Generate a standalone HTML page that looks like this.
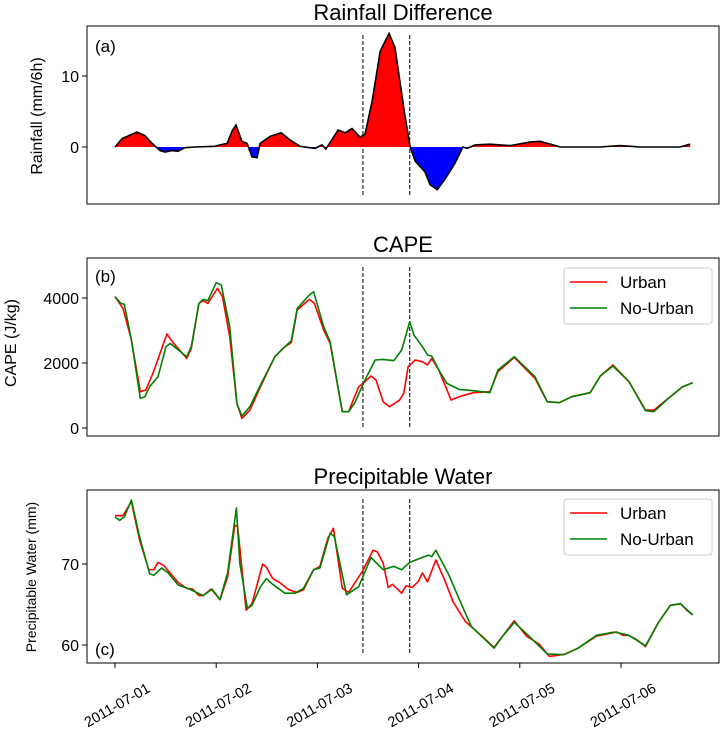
<!DOCTYPE html>
<html><head><meta charset="utf-8"><style>
body{margin:0;background:#fff}
svg{font-family:"Liberation Sans","DejaVu Sans",sans-serif}
</style></head><body>
<svg id="chart" width="722" height="729" viewBox="0 0 722 729">
<defs>
<clipPath id="clipPos"><rect x="87" y="0" width="632" height="147"/></clipPath>
<clipPath id="clipNeg"><rect x="87" y="147" width="632" height="60"/></clipPath>
</defs>
<g id="root"></g>
</svg>
<script>
// ---- data ----
const rainHours=[0,1.7,5.2,7.1,8.8,10.7,11.9,13.5,14.9,16.6,19,23.7,24.9,26.6,27.8,28.7,30.1,31.3,32.5,33.7,34.4,36.8,39.4,41.5,43.9,47.4,49.1,50,51.2,52.9,54.6,56.2,58.1,59.3,61,62.9,65,66.4,68.6,70,71.2,73.5,74.7,76.4,78.3,80.6,82.5,83.5,85.4,88.9,93.7,98.4,100.8,103.9,105.6,115,119.8,124.5,134,136.4];
const rainDiff=[0,1.2,2.1,1.6,0.5,-0.5,-0.7,-0.5,-0.6,-0.1,0,0.1,0.3,0.5,2.3,3.1,0.8,0.5,-1.4,-1.5,0.5,1.5,2.0,1.0,0.1,-0.2,0.3,-0.3,0.8,2.4,2.0,2.6,1.4,1.8,6.5,13.5,16,14,5,0,-2,-3.5,-5.3,-6,-4.5,-2.3,0,-0.2,0.3,0.4,0.2,0.7,0.8,0.3,0,0,0.2,0,0,0.4];
const capeUrbanHours=[0,1.9,3.9,6.0,7.3,9.0,12.3,13.6,17.0,18.1,19.9,20.9,22.0,24.3,25.5,27.2,28.9,30.1,32.0,34.5,37.9,40.3,41.8,43.2,46.1,47.3,49.5,51.0,53.9,55.4,57.8,59.3,60.7,61.9,63.6,65.1,67.5,68.5,69.5,71.2,72.9,74.1,75.1,76.8,79.7,81.6,85.0,88.9,90.8,94.7,99.6,102.5,105.4,108.3,112.7,115.1,118.1,121.9,125.8,127.8,131.7,134.6,137];
const capeUrban=[4041,3681,2707,1116,1168,1681,2891,2655,2142,2450,3835,3917,3835,4297,4041,2809,758,296,552,1271,2194,2502,2625,3630,3958,3835,3015,2604,501,501,1271,1424,1599,1476,809,655,860,1065,1886,2091,2040,1937,2142,1784,860,963,1086,1117,1732,2173,1527,809,778,963,1086,1599,1937,1424,552,552,963,1271,1394];
const capeNoUrbanHours=[0,1.4,2.2,3.9,6.0,7.1,8.2,10.2,12.1,13.1,17.0,18.1,19.9,20.9,22.0,24.0,25.2,27.2,28.9,30.1,32,34.5,37.9,40.3,41.8,43.2,46.1,47.1,49.5,51,53.9,55.4,56.8,59.3,61.7,63.6,66.1,68.0,69.9,70.9,72.9,74.1,75.1,76.8,78.7,81.6,85,88.9,90.8,94.7,99.6,102.5,105.4,108.3,112.7,115.1,118.1,121.9,125.8,127.8,131.7,134.6,137];
const capeNoUrban=[4041,3835,3805,2707,911,963,1271,1578,2502,2604,2194,2502,3835,3958,3917,4471,4400,3117,758,368,655,1322,2194,2502,2686,3681,4092,4195,3117,2655,501,501,758,1476,2091,2112,2071,2399,3271,2860,2502,2245,2214,1784,1373,1189,1147,1086,1784,2194,1578,809,778,963,1086,1599,1907,1424,532,501,963,1271,1394];
const pwUrbanHours=[0,1.9,3.9,5.8,8.0,9.2,10.2,11.6,15.0,17.0,18.4,19.9,20.9,22.8,24.9,26.7,28.4,29.1,31.1,32.5,35.0,35.9,37.4,38.8,41.3,43.2,44.7,47.1,48.6,50.5,51.8,53.9,55.4,58.8,61.2,62.2,63.6,64.8,65.8,68.0,69.0,70.4,71.9,72.9,74.1,76.1,78.2,80.2,83.1,87.0,89.9,91.8,94.7,97.6,100.6,103.0,104.9,106.9,109.8,114.2,119.0,120.5,121.9,123.9,125.8,128.8,131.7,134.1,135.6,137];
const pwUrban=[75.97,75.97,77.7,73.0,69.3,69.3,70.2,69.8,67.7,67.0,66.9,66.1,66.1,66.9,65.6,68.4,74.8,74.6,64.3,65.1,70.0,69.6,68.2,67.8,66.8,66.5,66.8,69.3,69.7,73.2,74.4,67.0,66.5,69.2,71.7,71.5,70.1,67.1,67.5,66.4,67.3,67.1,67.8,68.9,67.8,70.5,68.0,65.3,62.9,61.1,59.7,61.0,63.0,61.1,60.1,58.6,58.7,58.9,59.6,61.1,61.6,61.2,61.2,60.6,59.8,62.7,64.9,65.1,64.3,63.7];
const pwNoUrbanHours=[0,1.1,2.2,3.9,5.8,8.2,9.2,11.1,12.6,15.0,17.2,18.9,20.9,23.0,24.9,26.7,28.8,29.6,31.4,32.5,34.5,35.9,37.4,40.3,42.7,44.7,47.1,48.6,51.0,52.0,54.9,57.8,60.7,63.6,66.1,68.0,69.9,72.4,74.4,75.1,76.1,79.2,82.1,84.5,89.9,91.8,94.7,97.6,102.5,106.4,109.8,114.2,118.5,121.9,125.8,128.8,131.7,134.1,137];
const pwNoUrban=[75.8,75.4,75.8,77.9,73.4,68.8,68.6,69.5,68.9,67.4,67.0,66.6,66.1,66.9,65.6,68.9,76.9,70.1,64.5,64.9,67.2,68.2,67.5,66.4,66.4,67.0,69.3,69.5,73.8,73.4,66.2,67.2,70.8,69.3,69.7,69.3,70.2,70.7,71.1,70.9,71.7,68.6,65.1,62.3,59.6,61.0,62.8,61.4,58.9,58.8,59.6,61.2,61.6,61.2,59.9,62.7,64.9,65.1,63.7];
const xTickLabels=["2011-07-01","2011-07-02","2011-07-03","2011-07-04","2011-07-05","2011-07-06"];
const eventHours=[58.8,69.9];
const rainTicks=[0,10], capeTicks=[0,2000,4000], pwTicks=[60,70];

// ---- scales ----
const X=h=>115+h/24*101.2;
const Ya=v=>147-v*7.1;
const Yb=v=>428-v*0.0325;
const Yc=v=>564-(v-70)*8.1;
const NS="http://www.w3.org/2000/svg";
const root=document.getElementById('root');
function mk(tag,attrs,parent){const e=document.createElementNS(NS,tag);for(const k in attrs)e.setAttribute(k,attrs[k]);(parent||root).appendChild(e);return e;}
function txt(s,attrs){const e=mk('text',attrs);e.textContent=s;return e;}
function pts(hs,vs,Y){return hs.map((h,i)=>X(h).toFixed(1)+','+Y(vs[i]).toFixed(1)).join(' ');}

const panels=[{top:26,bot:204,title:"Rainfall Difference",ty:20,lab:"(a)",ly:52,name:"rainfall"},
{top:258,bot:436,title:"CAPE",ty:252,lab:"(b)",ly:282,name:"cape"},
{top:490,bot:663,title:"Precipitable Water",ty:484,lab:"(c)",ly:655,name:"pw"}];
panels.forEach(p=>{
  let r=mk('rect',{x:87,y:p.top,width:632,height:p.bot-p.top,fill:'none',stroke:'#000','stroke-width':1});
  
  
  let t=txt(p.title,{x:403,y:p.ty,'text-anchor':'middle','font-size':22});
  
  
  let l=txt(p.lab,{x:95,y:p.ly,'font-size':17});
  
  
  eventHours.forEach(h=>{
    let d=mk('line',{x1:X(h),x2:X(h),y1:p.top+9,y2:p.bot-8,stroke:'#000','stroke-width':1,'stroke-dasharray':'4,2'});
    
    
  });
});
function yTicks(ticks,Y,name){ticks.forEach(v=>{
  let tk=mk('line',{x1:82,x2:87,y1:Y(v),y2:Y(v),stroke:'#000'});
  
  
  let t=txt(String(v),{x:79,y:Y(v)+6,'text-anchor':'end','font-size':16});
  
  
});}
yTicks(rainTicks,Ya,'rainfall');yTicks(capeTicks,Yb,'cape');yTicks(pwTicks,Yc,'pw');

// y titles
[["Rainfall (mm/6h)",42,116,16,'rainfall'],["CAPE (J/kg)",16,343,16,'cape'],["Precipitable Water (mm)",36,577,14,'pw']].forEach(a=>{
  let t=txt(a[0],{x:a[1],y:a[2],'text-anchor':'middle','font-size':a[3],transform:`rotate(-90 ${a[1]} ${a[2]})`});
  
  
});

// rainfall area
const areaPts=X(rainHours[0])+','+Ya(0)+' '+pts(rainHours,rainDiff,Ya)+' '+X(rainHours[rainHours.length-1])+','+Ya(0);
let pos=mk('polygon',{points:areaPts,fill:'#ff0000','clip-path':'url(#clipPos)'});


let neg=mk('polygon',{points:areaPts,fill:'#0000ff','clip-path':'url(#clipNeg)'});


let rl=mk('polyline',{points:pts(rainHours,rainDiff,Ya),fill:'none',stroke:'#000','stroke-width':1.6});



function series(hs,vs,Y,color,name){
  let l=mk('polyline',{points:pts(hs,vs,Y),fill:'none',stroke:color,'stroke-width':1.6,'stroke-linejoin':'round'});
  
  
}
series(capeUrbanHours,capeUrban,Yb,'#ff0000','cape-urban-line');
series(capeNoUrbanHours,capeNoUrban,Yb,'#008000','cape-no-urban-line');
series(pwUrbanHours,pwUrban,Yc,'#ff0000','pw-urban-line');
series(pwNoUrbanHours,pwNoUrban,Yc,'#008000','pw-no-urban-line');

function legend(y0,name){
  let b=mk('rect',{x:564,y:y0,width:148,height:56,rx:3,fill:'#fff',stroke:'#ccc'});
  
  
  [["Urban",'#ff0000',y0+14],["No-Urban",'#008000',y0+40]].forEach(e=>{
    let l=mk('line',{x1:570,x2:607,y1:e[2],y2:e[2],stroke:e[1],'stroke-width':1.6});
    
    
    let t=txt(e[0],{x:620,y:e[2]+6,'font-size':17});
    
    
  });
}
legend(268,'cape');legend(499,'pw');

xTickLabels.forEach((s,i)=>{
  const x=X(i*24);
  let tk=mk('line',{x1:x,x2:x,y1:663,y2:668,stroke:'#000'});
  
  
  let t=txt(s,{x:x+2,y:710,'text-anchor':'middle','font-size':14.5,transform:`rotate(-30 ${x+2} 705)`});
  
  
});
</script>
</body></html>
